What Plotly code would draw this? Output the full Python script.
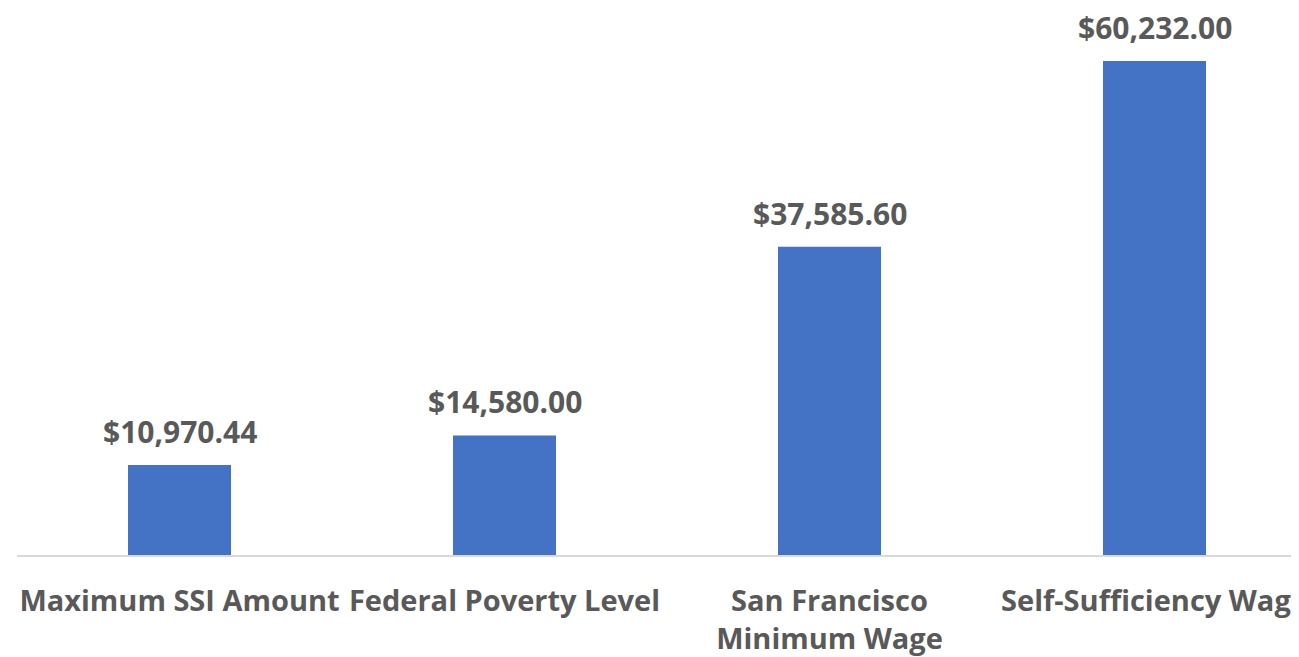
import plotly.graph_objects as go

categories = ["Maximum SSI Amount", "Federal Poverty Level", "San Francisco<br>Minimum Wage", "Self-Sufficiency Wage"]
values = [10970.44, 14580.00, 37585.60, 60232.00]
labels = ["$10,970.44", "$14,580.00", "$37,585.60", "$60,232.00"]

bar_color = "#4472C4"
text_color = "#595959"
font_family = "Open Sans, Lato, sans-serif"

fig = go.Figure()
fig.add_trace(go.Bar(x=list(range(len(categories))), y=values, marker=dict(color=bar_color, line=dict(width=0)),
                     hoverinfo="skip"))

for i, (v, t) in enumerate(zip(values, labels)):
    fig.add_annotation(x=i, y=v, text=t, showarrow=False, yanchor="bottom", yshift=11,
                       font=dict(family=font_family, size=30, color=text_color, weight="bold"))

ymax = 60232 * 545 / 494
fig.update_layout(
    width=1299, height=657,
    margin=dict(l=9, r=0, t=2, b=110, autoexpand=False),
    paper_bgcolor="white", plot_bgcolor="white",
    bargap=0.683, showlegend=False,
    xaxis=dict(tickmode="array", tickvals=list(range(len(categories))), ticktext=categories,
               range=[-0.5, -0.5 + 1290 / 325], showline=True, linecolor="#D9D9D9", linewidth=2,
               showgrid=False, zeroline=False, ticks="", ticklabelstandoff=19,
               ticklabeloverflow="allow",
               tickfont=dict(family=font_family, size=29, color=text_color, weight="bold")),
    yaxis=dict(range=[0, ymax], visible=False, showgrid=False, zeroline=False),
)
fig.write_html("out.html")
